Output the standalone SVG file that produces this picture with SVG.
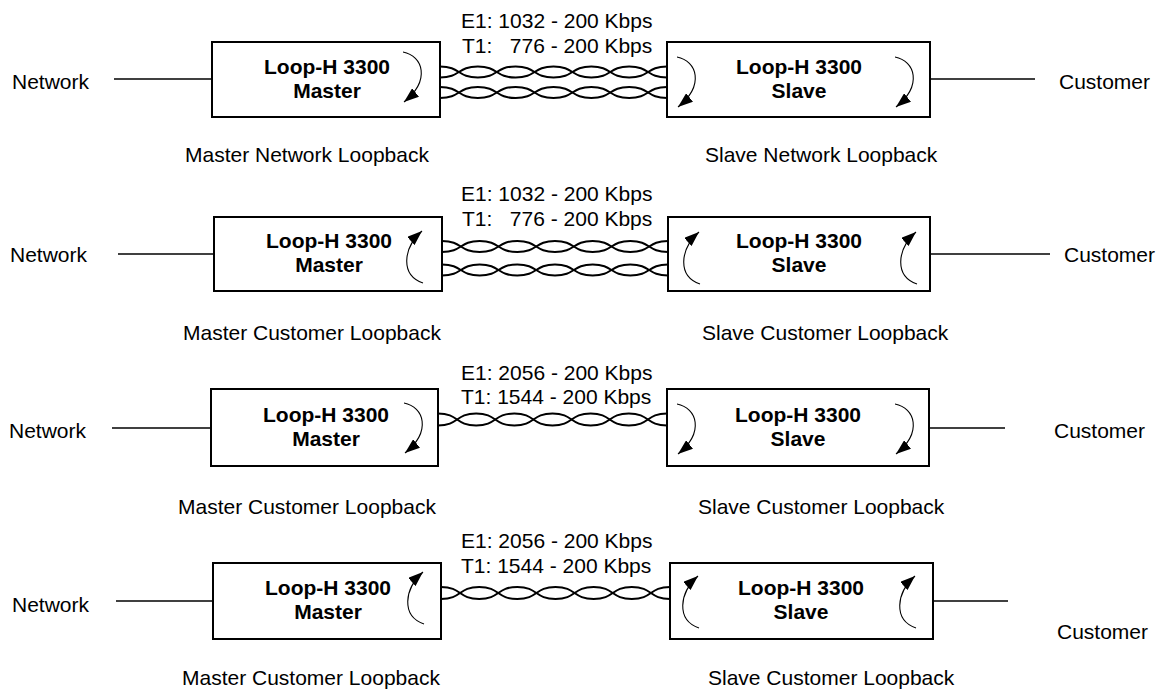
<svg xmlns="http://www.w3.org/2000/svg" xmlns:xlink="http://www.w3.org/1999/xlink" width="1159" height="689" viewBox="0 0 1159 689">
<style>
.box{fill:#fff;stroke:#000;stroke-width:2}
.ln{stroke:#000;stroke-width:1.6;fill:none}
.tw{fill:none;stroke:#000;stroke-width:2}
.loop{fill:none;stroke:#000;stroke-width:1.1;marker-end:url(#ah)}
.t{font-family:"Liberation Sans",Arial,sans-serif;font-size:21px;fill:#000}
.b{font-weight:bold;text-anchor:middle}
</style>
<defs>
<marker id="ah" viewBox="0 0 15 11" refX="15" refY="5.5" markerWidth="15" markerHeight="11" markerUnits="userSpaceOnUse" orient="auto">
<path d="M0,0 L15,5.5 L0,11 z" fill="#000"/>
</marker>
<g id="tp11" class="tw">
<path d="M0,0 C20.9,0 17.1,11 38,11 C58.9,11 55.1,0 76,0 C96.9,0 93.1,11 114,11 C134.9,11 131.1,0 152,0 C172.9,0 169.1,11 190,11 C210.9,11 207.1,0 228,0"/>
<path d="M0,11 C20.9,11 17.1,0 38,0 C58.9,0 55.1,11 76,11 C96.9,11 93.1,0 114,0 C134.9,0 131.1,11 152,11 C172.9,11 169.1,0 190,0 C210.9,0 207.1,11 228,11"/>
</g>
<g id="tp12" class="tw">
<path d="M0,0 C20.9,0 17.1,12 38,12 C58.9,12 55.1,0 76,0 C96.9,0 93.1,12 114,12 C134.9,12 131.1,0 152,0 C172.9,0 169.1,12 190,12 C210.9,12 207.1,0 228,0"/>
<path d="M0,12 C20.9,12 17.1,0 38,0 C58.9,0 55.1,12 76,12 C96.9,12 93.1,0 114,0 C134.9,0 131.1,12 152,12 C172.9,12 169.1,0 190,0 C210.9,0 207.1,12 228,12"/>
</g>
</defs>
<rect width="1159" height="689" fill="#fff"/>

<g id="connectors">
<line class="ln" x1="114" y1="79" x2="212" y2="79"/>
<line class="ln" x1="930" y1="79" x2="1035" y2="79"/>
<use xlink:href="#tp11" href="#tp11" transform="translate(440,66.5) scale(0.9956,1)"/>
<use xlink:href="#tp11" href="#tp11" transform="translate(440,87) scale(0.9956,1)"/>

<line class="ln" x1="118" y1="254" x2="214" y2="254"/>
<line class="ln" x1="930" y1="254" x2="1050" y2="254"/>
<use xlink:href="#tp11" href="#tp11" transform="translate(442,241) scale(0.9912,1)"/>
<use xlink:href="#tp11" href="#tp11" transform="translate(442,264.5) scale(0.9912,1)"/>

<line class="ln" x1="112" y1="428" x2="211" y2="428"/>
<line class="ln" x1="929" y1="428" x2="1005" y2="428"/>
<use xlink:href="#tp12" href="#tp12" transform="translate(438,413.5) scale(1.0044,1)"/>

<line class="ln" x1="116" y1="601" x2="213" y2="601"/>
<line class="ln" x1="933" y1="601" x2="1008" y2="601"/>
<use xlink:href="#tp12" href="#tp12" transform="translate(441,587) scale(1.0044,1)"/>
</g>

<g id="row1-master">
<rect class="box" x="212" y="42" width="228" height="75"/>
<text class="t b" x="327" y="74">Loop-H 3300</text>
<text class="t b" x="327" y="98">Master</text>
<path class="loop" d="M403,52 C423,56 431,80 404,102"/>
</g>
<g id="row1-slave">
<rect class="box" x="667" y="42" width="263" height="75"/>
<text class="t b" x="799" y="74">Loop-H 3300</text>
<text class="t b" x="799" y="98">Slave</text>
<path class="loop" d="M677,57 C697,61 705,85 678,107"/>
<path class="loop" d="M895,57 C915,61 923,85 896,107"/>
</g>
<g id="row1-network"><text class="t" x="12" y="89">Network</text></g>
<g id="row1-customer"><text class="t" x="1059" y="89">Customer</text></g>
<g id="row1-rate">
<text class="t" x="461" y="28">E1: 1032 - 200 Kbps</text>
<text class="t" x="462" y="53" xml:space="preserve">T1:   776 - 200 Kbps</text>
</g>
<text class="t" x="185" y="162">Master Network Loopback</text>
<text class="t" x="705" y="162">Slave Network Loopback</text>

<g id="row2-master">
<rect class="box" x="214" y="217" width="228" height="74"/>
<text class="t b" x="329" y="248">Loop-H 3300</text>
<text class="t b" x="329" y="272">Master</text>
<path class="loop" d="M423,283 C400,275 403,248 422,231"/>
</g>
<g id="row2-slave">
<rect class="box" x="668" y="217" width="262" height="74"/>
<text class="t b" x="799" y="248">Loop-H 3300</text>
<text class="t b" x="799" y="272">Slave</text>
<path class="loop" d="M700,284 C677,276 680,249 699,232"/>
<path class="loop" d="M917,284 C894,276 897,249 916,232"/>
</g>
<g id="row2-network"><text class="t" x="10" y="262">Network</text></g>
<g id="row2-customer"><text class="t" x="1064" y="262">Customer</text></g>
<g id="row2-rate">
<text class="t" x="461" y="201">E1: 1032 - 200 Kbps</text>
<text class="t" x="462" y="226" xml:space="preserve">T1:   776 - 200 Kbps</text>
</g>
<text class="t" x="183" y="340">Master Customer Loopback</text>
<text class="t" x="702" y="340">Slave Customer Loopback</text>

<g id="row3-master">
<rect class="box" x="211" y="389" width="227" height="77"/>
<text class="t b" x="326" y="422">Loop-H 3300</text>
<text class="t b" x="326" y="446">Master</text>
<path class="loop" d="M404,403 C424,407 432,431 405,453"/>
</g>
<g id="row3-slave">
<rect class="box" x="667" y="389" width="262" height="77"/>
<text class="t b" x="798" y="422">Loop-H 3300</text>
<text class="t b" x="798" y="446">Slave</text>
<path class="loop" d="M677,404 C697,408 705,432 678,454"/>
<path class="loop" d="M895,404 C915,408 923,432 896,454"/>
</g>
<g id="row3-network"><text class="t" x="9" y="438">Network</text></g>
<g id="row3-customer"><text class="t" x="1054" y="438">Customer</text></g>
<g id="row3-rate">
<text class="t" x="461" y="380">E1: 2056 - 200 Kbps</text>
<text class="t" x="461" y="404">T1: 1544 - 200 Kbps</text>
</g>
<text class="t" x="178" y="514">Master Customer Loopback</text>
<text class="t" x="698" y="514">Slave Customer Loopback</text>

<g id="row4-master">
<rect class="box" x="213" y="563" width="228" height="76"/>
<text class="t b" x="328" y="595">Loop-H 3300</text>
<text class="t b" x="328" y="619">Master</text>
<path class="loop" d="M424,624 C401,616 404,589 423,572"/>
</g>
<g id="row4-slave">
<rect class="box" x="670" y="563" width="263" height="76"/>
<text class="t b" x="801" y="595">Loop-H 3300</text>
<text class="t b" x="801" y="619">Slave</text>
<path class="loop" d="M699,628 C676,620 679,593 698,576"/>
<path class="loop" d="M916,628 C893,620 896,593 915,576"/>
</g>
<g id="row4-network"><text class="t" x="12" y="612">Network</text></g>
<g id="row4-customer"><text class="t" x="1057" y="639">Customer</text></g>
<g id="row4-rate">
<text class="t" x="461" y="548">E1: 2056 - 200 Kbps</text>
<text class="t" x="461" y="573">T1: 1544 - 200 Kbps</text>
</g>
<text class="t" x="182" y="685">Master Customer Loopback</text>
<text class="t" x="708" y="685">Slave Customer Loopback</text>
</svg>
